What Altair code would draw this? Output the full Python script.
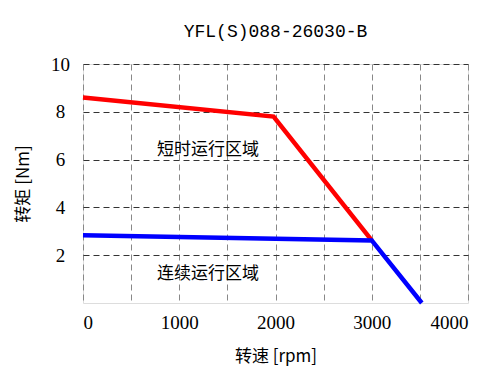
import altair as alt
import pandas as pd

# data
red_x = [0, 1980, 3000]
red_y = [8.6, 7.8, 2.62]
blue_x = [0, 3000, 3520]
blue_y = [2.83, 2.62, 0]
x_ticks = [0, 500, 1000, 1500, 2000, 2500, 3000, 3500, 4000]
y_ticks = [2, 4, 6, 8, 10]
labels = ["短时运行区域", "连续运行区域"]
label_x = [770, 770]
label_y = [6.41, 1.23]

rows = [{"rpm": x, "torque": y, "s": "short", "o": i} for i, (x, y) in enumerate(zip(red_x, red_y))]
rows += [{"rpm": x, "torque": y, "s": "cont", "o": i} for i, (x, y) in enumerate(zip(blue_x, blue_y))]
df = pd.DataFrame(rows)
tdf = pd.DataFrame({"rpm": label_x, "torque": label_y, "t": labels})

num_font = "Liberation Serif"
cjk = "Noto Sans CJK SC"

xs = alt.Scale(domain=[0, 4000], nice=False)
ys = alt.Scale(domain=[0, 10], nice=False)

xax = alt.Axis(values=x_ticks, labelExpr="datum.value % 1000 == 0 ? datum.label : ''",
               grid=True, gridDash=[6, 4], gridColor="#888888", gridWidth=1,
               ticks=False, domain=False, labelFont=num_font, labelFontSize=19,
               labelColor="black", labelPadding=10, format="d",
               title="转速 [rpm]", titleFont=cjk, titleFontSize=17, titleFontWeight="normal",
               titleColor="black", titlePadding=16)
yax = alt.Axis(values=y_ticks, grid=True, gridDash=[6, 4], gridColor="#333333", gridWidth=1,
               ticks=False, domain=False, labelFont=num_font, labelFontSize=19,
               labelColor="black", labelAlign="center", labelPadding=23,
               title="转矩 [Nm]", titleFont=cjk, titleFontSize=17, titleFontWeight="normal",
               titleColor="black", titlePadding=18)

red = alt.Chart(df[df.s == "short"]).mark_line(color="#FF0000", strokeWidth=4.5).encode(
    x=alt.X("rpm:Q", scale=xs, axis=xax),
    y=alt.Y("torque:Q", scale=ys, axis=yax),
    order="o:Q",
)
blue = alt.Chart(df[df.s == "cont"]).mark_line(color="#0000FF", strokeWidth=4.5).encode(
    x=alt.X("rpm:Q", scale=xs),
    y=alt.Y("torque:Q", scale=ys),
    order="o:Q",
)
txt = alt.Chart(tdf).mark_text(font=cjk, fontSize=17, align="left", baseline="middle",
                               color="black").encode(
    x=alt.X("rpm:Q", scale=xs),
    y=alt.Y("torque:Q", scale=ys),
    text="t:N",
)

chart = alt.layer(red, blue, txt).properties(
    width=385, height=239,
    autosize=alt.AutoSizeParams(type="none"),
    padding={"left": 75, "top": 56, "right": 24, "bottom": 63},
    title=alt.TitleParams("YFL(S)088-26030-B", font="Liberation Mono", fontSize=18,
                          fontWeight="normal", color="black", anchor="middle", offset=14),
).configure_view(stroke="black", strokeWidth=1.5).configure(background="white")

chart.save("out.html", embed_options={"renderer": "svg", "actions": False})
